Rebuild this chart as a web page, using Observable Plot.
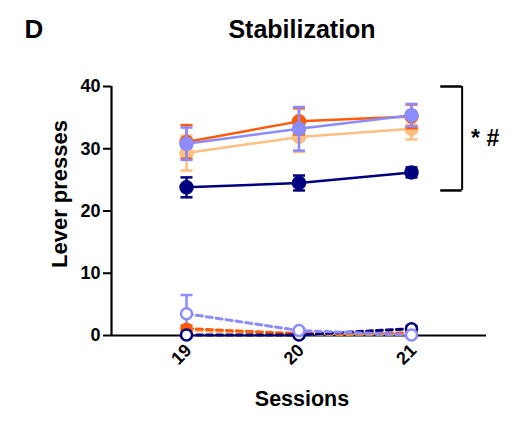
<!DOCTYPE html>
<html><head><meta charset="utf-8">
<script src="https://cdn.jsdelivr.net/npm/d3@7"></script>
<script src="https://cdn.jsdelivr.net/npm/@observablehq/plot@0.6"></script>
<style>
body{margin:0;background:#fff;}
</style>
</head><body>
<div id="chart"></div>
<script>
const sessions = [19, 20, 21];
const groupNames = ["Peach", "Orange", "Navy", "Purple"];
const groupColors = ["#FFBF80", "#FF5B0A", "#00007F", "#8C8CFF"];
// solid (active lever) means and SEM
const solidMean = {
  Peach:  [29.3, 31.9, 33.2],
  Orange: [31.1, 34.4, 35.2],
  Navy:   [23.8, 24.5, 26.2],
  Purple: [30.8, 33.2, 35.4]
};
const solidErr = {
  Peach:  [2.8, 2.4, 1.7],
  Orange: [2.7, 2.1, 1.9],
  Navy:   [1.6, 1.2, 0.8],
  Purple: [2.6, 3.5, 1.8]
};
// dashed (inactive lever) means and SEM
const dashMean = {
  Peach:  [0.8, 0.2, 0.2],
  Orange: [1.1, 0.3, 0.4],
  Navy:   [0.1, 0.1, 1.1],
  Purple: [3.5, 0.8, 0.1]
};
const dashErr = {
  Peach:  [0.4, 0.1, 0.1],
  Orange: [0.5, 0.2, 0.2],
  Navy:   [0.1, 0.1, 0.4],
  Purple: [3.0, 0.3, 0.2]
};
const yTicks = [0, 10, 20, 30, 40];
const bracketSpan = [23.3, 40];
const bracketX = [21.26, 21.45];
const sigLabel = "* #";

const color = g => groupColors[groupNames.indexOf(g)];
function rows(mean, err, kind) {
  const out = [];
  groupNames.forEach(g => sessions.forEach((s, i) => out.push({
    group: g, session: s, mean: mean[g][i], lo: mean[g][i] - err[g][i], hi: mean[g][i] + err[g][i], kind
  })));
  return out;
}
const solid = rows(solidMean, solidErr, "solid");
const dashed = rows(dashMean, dashErr, "dashed");

const capSymbol = {draw(ctx, size) { const r = Math.sqrt(size / Math.PI); ctx.moveTo(-r, 0); ctx.lineTo(r, 0); }};

const marks = [];
// dashed groups
for (const g of groupNames) {
  const d = dashed.filter(r => r.group === g);
  marks.push(Plot.ruleX(d, {x: "session", y1: "lo", y2: "hi", stroke: color(g), strokeWidth: 2.5}));
  marks.push(Plot.dot(d, {x: "session", y: "hi", symbol: capSymbol, r: 6, stroke: color(g), strokeWidth: 2.5}));
  marks.push(Plot.line(d, {x: "session", y: "mean", stroke: color(g), strokeWidth: 3, strokeDasharray: "6,4"}));
}
// solid groups
for (const g of groupNames) {
  const d = solid.filter(r => r.group === g);
  marks.push(Plot.ruleX(d, {x: "session", y1: "lo", y2: "hi", stroke: color(g), strokeWidth: 2.5}));
  marks.push(Plot.dot(d, {x: "session", y: "hi", symbol: capSymbol, r: 6, stroke: color(g), strokeWidth: 2.5}));
  marks.push(Plot.dot(d, {x: "session", y: "lo", symbol: capSymbol, r: 6, stroke: color(g), strokeWidth: 2.5}));
  marks.push(Plot.line(d, {x: "session", y: "mean", stroke: color(g), strokeWidth: 2.5}));
  marks.push(Plot.dot(d, {x: "session", y: "mean", r: 6.5, fill: color(g), stroke: color(g)}));
}
// dashed markers on top
for (const g of groupNames) {
  const d = dashed.filter(r => r.group === g);
  const open = (g === "Purple" || g === "Navy");
  marks.push(Plot.dot(d, {x: "session", y: "mean", r: open ? 5.5 : 5, fill: open ? "white" : color(g), stroke: color(g), strokeWidth: 2.5}));
}

const chart = Plot.plot({
  width: 527,
  height: 422,
  marginLeft: 111,
  marginRight: 41,
  marginTop: 86,
  marginBottom: 87,
  style: {fontFamily: "'Liberation Sans', Arial, sans-serif", fontWeight: "bold", fontSize: "18px", color: "#000", background: "white", overflow: "visible"},
  x: {domain: [18.3333, 21.6667], label: null},
  y: {domain: [0, 40], label: null},
  marks: [
    Plot.axisY({ticks: yTicks, tickSize: 8, tickPadding: 3, fontSize: 18, fontWeight: "bold", strokeWidth: 2, label: null}),
    Plot.axisX({ticks: sessions, tickSize: 5, strokeWidth: 2, label: null, tickFormat: () => ""}),
    Plot.text(sessions, {x: d => d, y: 0, text: d => String(d), rotate: -45, dx: -5, dy: 19, fontSize: 18, fontWeight: "bold", textAnchor: "middle"}),
    Plot.ruleY([0], {strokeWidth: 2.2, stroke: "black"}),
    Plot.ruleX([18.3333], {y1: 0, y2: 40, strokeWidth: 2.2, stroke: "black"}),
    ...marks,
    // significance bracket
    Plot.ruleX([bracketX[1]], {y1: bracketSpan[0], y2: bracketSpan[1], stroke: "black", strokeWidth: 2, clip: false}),
    Plot.ruleY(bracketSpan, {x1: bracketX[0], x2: bracketX[1], stroke: "black", strokeWidth: 2.5, clip: false}),
    Plot.text([sigLabel], {x: bracketX[1], y: (bracketSpan[0] + bracketSpan[1]) / 2, dx: 9, textAnchor: "start", fontSize: 23, fontWeight: "bold", clip: false}),
    // titles and labels
    Plot.text(["Stabilization"], {frameAnchor: "top", dx: 3, dy: -57, fontSize: 25, fontWeight: "bold", textAnchor: "middle", lineAnchor: "middle"}),
    Plot.text(["D"], {frameAnchor: "top-left", dx: -87, dy: -57, fontSize: 26, fontWeight: "bold", textAnchor: "start", lineAnchor: "middle"}),
    Plot.text(["Sessions"], {frameAnchor: "bottom", dx: 3, dy: 64, fontSize: 21.5, fontWeight: "bold", textAnchor: "middle", lineAnchor: "middle"}),
    Plot.text(["Lever presses"], {frameAnchor: "left", dx: -52, dy: -17, rotate: -90, fontSize: 22, fontWeight: "bold", textAnchor: "middle"})
  ]
});
document.getElementById("chart").appendChild(chart);
</script>
</body></html>
